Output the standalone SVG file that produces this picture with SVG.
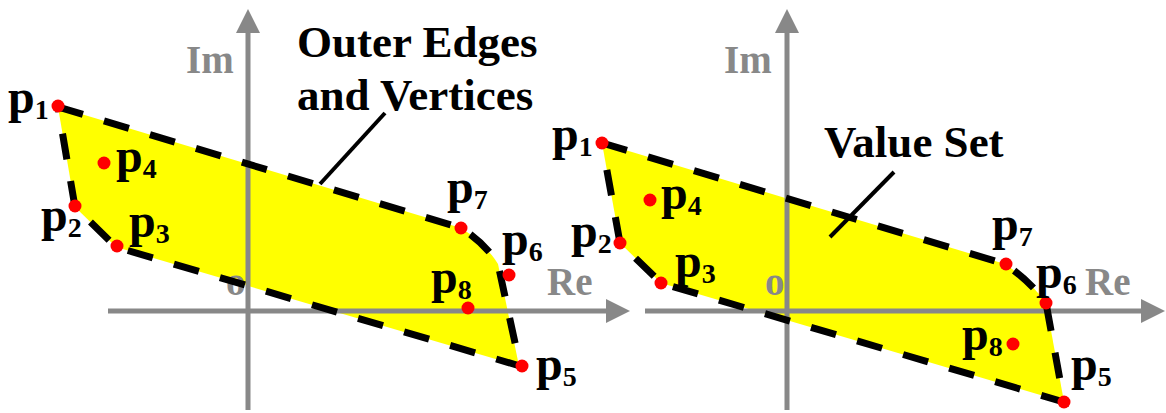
<svg xmlns="http://www.w3.org/2000/svg" width="1166" height="413" viewBox="0 0 1166 413">
<style>
.ax{stroke:#888;stroke-width:5;fill:none}
.axl{font-family:"Liberation Serif","Times New Roman",serif;font-weight:bold;fill:#888;font-size:39px}
.lbl{font-family:"Liberation Serif","Times New Roman",serif;font-weight:bold;fill:#000;font-size:48px}
.sub{font-size:28px}
.ttl{font-family:"Liberation Serif","Times New Roman",serif;font-weight:bold;fill:#000;font-size:45px}
.region{fill:#ffff00;stroke:none}
.edge{fill:none;stroke:#000;stroke-width:7;stroke-dasharray:26 22}
.pt{fill:#ff0000}
.lead{stroke:#000;stroke-width:4;fill:none}
</style>
<defs>
<marker id="arr" markerUnits="userSpaceOnUse" markerWidth="24" markerHeight="24" refX="1" refY="12" orient="auto">
<path d="M0,0 L24,12 L0,24 Z" fill="#888"/>
</marker>
</defs>

<!-- regions -->
<path id="regionLeft" class="region" d="M58,107 L461,228 Q485,243 498,264 L519,366 L116,247 L75,207 Z"/>
<path id="regionRight" class="region" d="M602,143 L1005,264 Q1030,281 1046,303 L1064,402 L661,283 L620,243 Z"/>

<!-- axes -->
<g id="axes">
<line class="ax" x1="108" y1="311" x2="607" y2="311" marker-end="url(#arr)"/>
<line class="ax" x1="248" y1="410" x2="248" y2="32" marker-end="url(#arr)"/>
<line class="ax" x1="645" y1="311" x2="1142" y2="311" marker-end="url(#arr)"/>
<line class="ax" x1="787" y1="410" x2="787" y2="32" marker-end="url(#arr)"/>
<text class="axl" x="186" y="73">Im</text>
<text class="axl" x="547" y="295">Re</text>
<text class="axl" x="226" y="295">o</text>
<text class="axl" x="724" y="73">Im</text>
<text class="axl" x="1085" y="295">Re</text>
<text class="axl" x="765" y="295">o</text>
</g>

<!-- connectors -->
<g id="connectors">
<path class="edge" d="M58,107 L461,228 Q485,243 498,264 L520,366 L116,247 L75,207 Z"/>
<path class="edge" d="M602,143 L1005,264 Q1030,281 1046,303 L1064,402 L661,283 L620,243 Z"/>
<line class="lead" x1="385" y1="113" x2="320" y2="184"/>
<line class="lead" x1="894" y1="172" x2="830" y2="237"/>
</g>

<!-- titles -->
<g id="title-outer">
<text class="ttl" x="297" y="57">Outer Edges</text>
<text class="ttl" x="297" y="110">and Vertices</text>
</g>
<g id="title-value">
<text class="ttl" x="824" y="157">Value Set</text>
</g>

<!-- left points -->
<g id="L-p1"><circle class="pt" cx="58" cy="106" r="6.5"/><text class="lbl" x="8" y="113">p<tspan class="sub" dy="6">1</tspan></text></g>
<g id="L-p2"><circle class="pt" cx="75" cy="206" r="6.5"/><text class="lbl" x="41" y="231">p<tspan class="sub" dy="6">2</tspan></text></g>
<g id="L-p3"><circle class="pt" cx="117" cy="246" r="6.5"/><text class="lbl" x="129" y="237">p<tspan class="sub" dy="6">3</tspan></text></g>
<g id="L-p4"><circle class="pt" cx="104" cy="163" r="6.5"/><text class="lbl" x="116" y="172">p<tspan class="sub" dy="6">4</tspan></text></g>
<g id="L-p5"><circle class="pt" cx="522" cy="366" r="6.5"/><text class="lbl" x="536" y="380">p<tspan class="sub" dy="6">5</tspan></text></g>
<g id="L-p6"><circle class="pt" cx="509" cy="275" r="6.5"/><text class="lbl" x="502" y="255">p<tspan class="sub" dy="6">6</tspan></text></g>
<g id="L-p7"><circle class="pt" cx="461" cy="228" r="6.5"/><text class="lbl" x="447" y="203">p<tspan class="sub" dy="6">7</tspan></text></g>
<g id="L-p8"><circle class="pt" cx="468" cy="308" r="6.5"/><text class="lbl" x="431" y="293">p<tspan class="sub" dy="6">8</tspan></text></g>

<!-- right points -->
<g id="R-p1"><circle class="pt" cx="602" cy="143" r="6.5"/><text class="lbl" x="552" y="150">p<tspan class="sub" dy="6">1</tspan></text></g>
<g id="R-p2"><circle class="pt" cx="620" cy="243" r="6.5"/><text class="lbl" x="571" y="247">p<tspan class="sub" dy="6">2</tspan></text></g>
<g id="R-p3"><circle class="pt" cx="661" cy="283" r="6.5"/><text class="lbl" x="675" y="277">p<tspan class="sub" dy="6">3</tspan></text></g>
<g id="R-p4"><circle class="pt" cx="650" cy="200" r="6.5"/><text class="lbl" x="661" y="209">p<tspan class="sub" dy="6">4</tspan></text></g>
<g id="R-p5"><circle class="pt" cx="1064" cy="402" r="6.5"/><text class="lbl" x="1071" y="380">p<tspan class="sub" dy="6">5</tspan></text></g>
<g id="R-p6"><circle class="pt" cx="1046" cy="303" r="6.5"/><text class="lbl" x="1036" y="288">p<tspan class="sub" dy="6">6</tspan></text></g>
<g id="R-p7"><circle class="pt" cx="1006" cy="264" r="6.5"/><text class="lbl" x="992" y="240">p<tspan class="sub" dy="6">7</tspan></text></g>
<g id="R-p8"><circle class="pt" cx="1013" cy="344" r="6.5"/><text class="lbl" x="962" y="350">p<tspan class="sub" dy="6">8</tspan></text></g>
</svg>
